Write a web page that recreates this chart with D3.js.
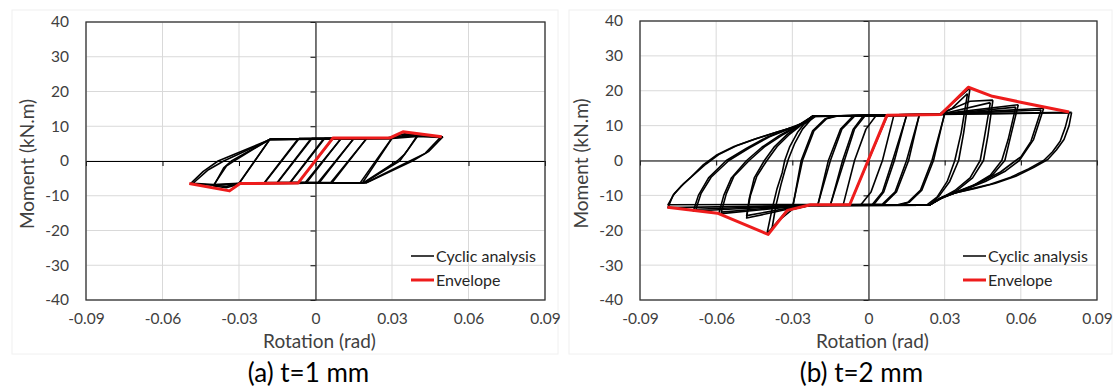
<!DOCTYPE html>
<html><head><meta charset="utf-8">
<script src="https://cdn.jsdelivr.net/npm/d3@7"></script>
<style>
body{margin:0;background:#fff;}
svg{display:block;}
text{font-family:Lato,"Open Sans",sans-serif;}
</style>
</head><body>
<svg id="c" width="1115" height="387"></svg>
<script>
// ---------- data ----------
const xTicks = [-0.09, -0.06, -0.03, 0, 0.03, 0.06, 0.09];
const yTicks = [-40, -30, -20, -10, 0, 10, 20, 30, 40];
const seriesNames = ["Cyclic analysis", "Envelope"];
const captions = ["(a) t=1 mm", "(b) t=2 mm"];
const xTitle = "Rotation (rad)";
const yTitle = "Moment (kN.m)";

// panel (a) t=1 mm : hysteresis loops [rotation, moment]
const loopsA = [
  [[0.0068,6.5],[-0.0068,-6.3],[0.0068,6.5]],
  [[0.01,6.5],[-0.0036,-6.3],[-0.01,-6.3],[0.0036,6.5],[0.01,6.5]],
  [[0.01,6.4],[-0.004,-6.2],[-0.01,-6.2],[0.0032,6.4],[0.01,6.4]],
  [[0.015,6.5],[0.0014,-6.3],[-0.015,-6.3],[-0.0014,6.5],[0.015,6.5]],
  [[0.015,6.4],[0.001,-6.2],[-0.015,-6.2],[-0.0018,6.4],[0.015,6.4]],
  [[0.02,6.5],[0.0064,-6.3],[-0.02,-6.3],[-0.0064,6.5],[0.02,6.5]],
  [[0.02,6.4],[0.006,-6.2],[-0.02,-6.2],[-0.0068,6.4],[0.02,6.4]],
  [[0.03,6.6],[0.0175,-6.3],[-0.03,-6.5],[-0.0178,6.3],[0.03,6.6]],
  [[0.03,6.5],[0.0185,-6.2],[-0.03,-6.4],[-0.018,6.2],[0.03,6.5]],
  [[0.04,7.4],[0.036,3],[0.033,0],[0.019,-6.3],[-0.029,-6.5],[-0.035,-7.7],[-0.04,-7.2],[-0.036,-2],[-0.033,0],[-0.0178,6.3],[0.028,6.6],[0.035,7.8],[0.04,7.4]],
  [[0.04,7.1],[0.035,2],[0.032,0],[0.019,-6.2],[-0.029,-6.4],[-0.035,-7.3],[-0.04,-7.0],[-0.035,-1.5],[-0.032,0],[-0.018,6.2],[0.029,6.5],[0.035,7.4],[0.04,7.1]],
  [[0.05,7.0],[0.0443,2.7],[0.038,0],[0.02,-6.3],[-0.03,-6.5],[-0.04,-7.0],[-0.049,-6.5],[-0.044,-3],[-0.0382,0],[-0.0178,6.2],[0.03,6.6],[0.038,7.3],[0.05,7.0]],
  [[0.049,6.8],[0.043,2.2],[0.037,0],[0.02,-6.2],[-0.03,-6.4],[-0.04,-6.8],[-0.048,-6.4],[-0.042,-2.5],[-0.036,0],[-0.018,6.1],[0.03,6.5],[0.04,7.1],[0.049,6.8]]
];
const envelopeA = [[-0.0495,-6.5],[-0.0337,-8.6],[-0.0296,-6.5],[-0.0068,-6.3],[0.0068,6.6],[0.0294,6.7],[0.0343,8.4],[0.0495,7.0]];

// panel (b) t=2 mm
const loopsB = [
  [[0.0075,13],[-0.0075,-12.8],[0.0075,13]],
  [[0.01,13],[0.0055,0],[0.001,-9],[-0.003,-12.7],[-0.01,-12.8],[-0.0055,0],[-0.001,9],[0.003,12.9],[0.01,13]],
  [[0.015,13],[0.0102,0],[0.006,-9],[0.002,-12.7],[-0.015,-12.8],[-0.0102,0],[-0.006,9],[-0.002,12.8],[0.015,13]],
  [[0.015,12.9],[0.0095,0],[0.0055,-9],[0.0015,-12.6],[-0.015,-12.7],[-0.0095,0],[-0.0055,9],[-0.0015,12.7],[0.015,12.9]],
  [[0.02,13.1],[0.0158,0],[0.011,-9],[0.006,-12.6],[-0.02,-12.9],[-0.0158,0],[-0.011,9],[-0.006,12.8],[0.02,13.1]],
  [[0.02,13],[0.015,0],[0.0105,-9],[0.0055,-12.5],[-0.02,-12.8],[-0.015,0],[-0.0105,9],[-0.0055,12.7],[0.02,13]],
  [[0.03,13.6],[0.0256,0],[0.021,-8.5],[0.016,-12],[0.012,-12.8],[-0.023,-12.9],[-0.03,-14],[-0.0265,0],[-0.022,8.5],[-0.017,12],[-0.013,12.8],[0.028,13.2],[0.03,13.6]],
  [[0.03,13.3],[0.025,0],[0.0205,-8.5],[0.0155,-12],[0.0115,-12.7],[-0.023,-12.8],[-0.03,-13.6],[-0.026,0],[-0.0215,8.5],[-0.0165,12],[-0.0125,12.7],[0.028,13.1],[0.03,13.3]],
  [[0.04,20.8],[0.0375,8],[0.0355,0],[0.032,-6],[0.028,-10],[0.024,-12.8],[-0.023,-12.8],[-0.032,-14.3],[-0.04,-21],[-0.038,-14],[-0.036,-8],[-0.034,-3.5],[-0.033,0],[-0.031,4],[-0.028,8],[-0.025,10.8],[-0.022,12.6],[0.028,13.2],[0.04,20.8]],
  [[0.039,19.2],[0.0365,8],[0.034,0],[0.031,-6],[0.027,-10.5],[0.023,-12.7],[-0.024,-12.8],[-0.03,-14],[-0.035,-17],[-0.038,-19.5],[-0.0365,-13],[-0.0345,-7],[-0.033,-3],[-0.0315,0.5],[-0.029,5],[-0.026,9],[-0.023,11.5],[-0.021,12.6],[0.028,13.1],[0.033,15],[0.039,19.2]],
  [[0.049,17.3],[0.047,7],[0.0453,0],[0.041,-5],[0.035,-8.5],[0.029,-10.8],[0.024,-12.8],[-0.025,-12.9],[-0.048,-16.5],[-0.047,-11],[-0.045,-5],[-0.041,0],[-0.037,4],[-0.032,7.5],[-0.027,10.2],[-0.022,12.7],[0.028,13.3],[0.04,17],[0.049,17.3]],
  [[0.048,16.6],[0.0455,6],[0.044,0],[0.04,-5],[0.034,-8.6],[0.028,-11],[0.024,-12.8],[-0.025,-12.8],[-0.048,-15.8],[-0.0465,-10],[-0.044,-4.5],[-0.04,0],[-0.036,4],[-0.031,7.6],[-0.026,10.4],[-0.022,12.7],[0.028,13.2],[0.048,16.6]],
  [[0.059,16],[0.056,7],[0.0537,0],[0.049,-4],[0.042,-7],[0.034,-9.3],[0.028,-11],[0.024,-12.8],[-0.025,-12.9],[-0.059,-15.3],[-0.057,-10],[-0.054,-5],[-0.048,0],[-0.042,3.8],[-0.035,7.2],[-0.028,10],[-0.022,12.7],[0.028,13.3],[0.059,16]],
  [[0.058,15.3],[0.055,6],[0.0525,0],[0.048,-4.2],[0.041,-7.3],[0.033,-9.6],[0.027,-11.3],[0.024,-12.8],[-0.025,-12.8],[-0.058,-14.8],[-0.056,-9.5],[-0.053,-4.5],[-0.047,0],[-0.041,3.9],[-0.034,7.3],[-0.027,10.1],[-0.022,12.7],[0.028,13.2],[0.058,15.3]],
  [[0.069,15],[0.065,6],[0.0594,0],[0.054,-3],[0.046,-6],[0.038,-8.3],[0.03,-10.2],[0.024,-12.8],[-0.025,-12.9],[-0.069,-14.5],[-0.067,-10],[-0.063,-5],[-0.056,0],[-0.048,3.5],[-0.04,6.7],[-0.031,9.3],[-0.025,11],[-0.022,12.7],[0.028,13.3],[0.069,15]],
  [[0.068,14.5],[0.064,5.5],[0.06,1],[0.058,0],[0.052,-3.3],[0.044,-6.3],[0.036,-8.6],[0.029,-10.6],[0.024,-12.8],[-0.025,-12.8],[-0.068,-14],[-0.066,-9.5],[-0.062,-4.8],[-0.055,0],[-0.047,3.6],[-0.039,6.8],[-0.03,9.4],[-0.025,11],[-0.022,12.7],[0.028,13.2],[0.068,14.5]],
  [[0.08,13.8],[0.079,10],[0.077,6],[0.074,3],[0.0706,0.3],[0.065,-2],[0.058,-4.5],[0.05,-6.5],[0.042,-8],[0.034,-9.3],[0.029,-10.5],[0.024,-12.8],[-0.025,-12.9],[-0.079,-13.5],[-0.077,-10],[-0.074,-7.5],[-0.07,-4.8],[-0.065,-1.2],[-0.06,1.5],[-0.053,4],[-0.045,6.1],[-0.036,8.2],[-0.028,9.9],[-0.024,11],[-0.022,12.7],[0.028,13.3],[0.08,13.8]],
  [[0.079,13.7],[0.0775,9.5],[0.0755,5.5],[0.0725,2.5],[0.069,0],[0.063,-2.4],[0.056,-4.8],[0.048,-6.8],[0.04,-8.2],[0.033,-9.5],[0.028,-10.8],[0.024,-12.8],[-0.025,-12.6],[-0.079,-12.7],[-0.0765,-9.5],[-0.073,-6.8],[-0.069,-4.2],[-0.064,-1],[-0.059,1.7],[-0.052,4.2],[-0.044,6.3],[-0.035,8.4],[-0.027,10.1],[-0.0235,11.3],[-0.022,12.7],[0.028,13.2],[0.079,13.7]]
];
const envelopeB = [[-0.0792,-13.4],[-0.0595,-15.1],[-0.0395,-21.2],[-0.032,-14.3],[-0.0229,-12.7],[-0.0074,-12.7],[0.0073,13.0],[0.0284,13.2],[0.0393,21.0],[0.0488,18.4],[0.0594,16.8],[0.079,13.9]];

// ---------- drawing ----------
const svg = d3.select("#c");
const panels = [
  {left:86, right:545, top:22, bottom:300, loops:loopsA, env:envelopeA, caption:captions[0], box:[12,10,546,344]},
  {left:640, right:1097, top:21, bottom:300, loops:loopsB, env:envelopeB, caption:captions[1], box:[569,10,543,344]}
];
const fmt = d => d === 0 ? "0" : d.toFixed(2);

panels.forEach(p => {
  const g = svg.append("g");
  const x = d3.scaleLinear().domain([-0.09, 0.09]).range([p.left, p.right]);
  const y = d3.scaleLinear().domain([-40, 40]).range([p.bottom, p.top]);

  g.append("rect").attr("x", p.box[0]).attr("y", p.box[1]).attr("width", p.box[2]).attr("height", p.box[3])
    .attr("fill", "none").attr("stroke", "#f0f0f0");

  // grid
  g.selectAll(".gx").data(xTicks).enter().append("line")
    .attr("x1", d => x(d)).attr("x2", d => x(d)).attr("y1", p.top).attr("y2", p.bottom)
    .attr("stroke", "#d9d9d9").attr("stroke-width", 1);
  g.selectAll(".gy").data(yTicks).enter().append("line")
    .attr("y1", d => y(d)).attr("y2", d => y(d)).attr("x1", p.left).attr("x2", p.right)
    .attr("stroke", "#d9d9d9").attr("stroke-width", 1);

  // tick labels
  const yl = g.append("g").attr("transform", `translate(${p.left},0)`)
    .call(d3.axisLeft(y).tickValues(yTicks).tickSize(0).tickPadding(17).tickFormat(d => d));
  yl.select(".domain").remove();
  yl.selectAll("text").attr("font-size", 15.5).attr("fill", "#404040").attr("font-family", "Lato");
  const xl = g.append("g").attr("transform", `translate(0,${p.bottom})`)
    .call(d3.axisBottom(x).tickValues(xTicks).tickSize(0).tickPadding(13).tickFormat(fmt));
  xl.select(".domain").remove();
  xl.selectAll("text").attr("font-size", 15.5).attr("fill", "#404040").attr("font-family", "Lato");

  // zero axes with tick marks
  const ya = g.append("g").attr("transform", `translate(${x(0)},0)`)
    .call(d3.axisLeft(y).tickValues(yTicks).tickSize(5).tickSizeOuter(0).tickFormat(""));
  ya.selectAll("path,line").attr("stroke", "#000").attr("stroke-width", 1);
  const xa = g.append("g").attr("transform", `translate(0,${y(0)})`)
    .call(d3.axisBottom(x).tickValues(xTicks).tickSize(5).tickSizeOuter(0).tickFormat(""));
  xa.selectAll("path,line").attr("stroke", "#000").attr("stroke-width", 1);

  // plot border
  g.append("rect").attr("x", p.left).attr("y", p.top).attr("width", p.right - p.left).attr("height", p.bottom - p.top)
    .attr("fill", "none").attr("stroke", "#333").attr("stroke-width", 1.3);

  const line = d3.line().x(d => x(d[0])).y(d => y(d[1]));
  g.selectAll(".loop").data(p.loops).enter().append("path")
    .attr("d", line).attr("fill", "none").attr("stroke", "#000").attr("stroke-width", 1.6)
    .attr("stroke-linejoin", "round");
  g.append("path").datum(p.env).attr("d", line).attr("fill", "none")
    .attr("stroke", "#ee1c1c").attr("stroke-width", 3).attr("stroke-linejoin", "round");

  // titles
  g.append("text").attr("x", (p.left + p.right) / 2 + 4).attr("y", 348).attr("text-anchor", "middle")
    .attr("font-size", 19).attr("fill", "#404040").text(xTitle);
  g.append("text").attr("transform", `translate(${p.left - 52},${(p.top + p.bottom) / 2 + 3}) rotate(-90)`)
    .attr("text-anchor", "middle").attr("font-size", 19).attr("fill", "#404040").text(yTitle);
  g.append("text").attr("x", (p.left + p.right) / 2 - 7).attr("y", 382).attr("text-anchor", "middle")
    .attr("font-size", 26).attr("fill", "#000").text(p.caption);

  // legend
  const lx = p.right - 134;
  const lg = g.append("g");
  lg.append("line").attr("x1", lx).attr("x2", lx + 23).attr("y1", 256).attr("y2", 256)
    .attr("stroke", "#000").attr("stroke-width", 1.5);
  lg.append("line").attr("x1", lx).attr("x2", lx + 23).attr("y1", 280).attr("y2", 280)
    .attr("stroke", "#ee1c1c").attr("stroke-width", 3);
  lg.append("text").attr("x", lx + 25).attr("y", 261.5).attr("font-size", 16).attr("fill", "#262626").text(seriesNames[0]);
  lg.append("text").attr("x", lx + 25).attr("y", 285.5).attr("font-size", 16).attr("fill", "#262626").text(seriesNames[1]);
});
</script>
</body></html>
